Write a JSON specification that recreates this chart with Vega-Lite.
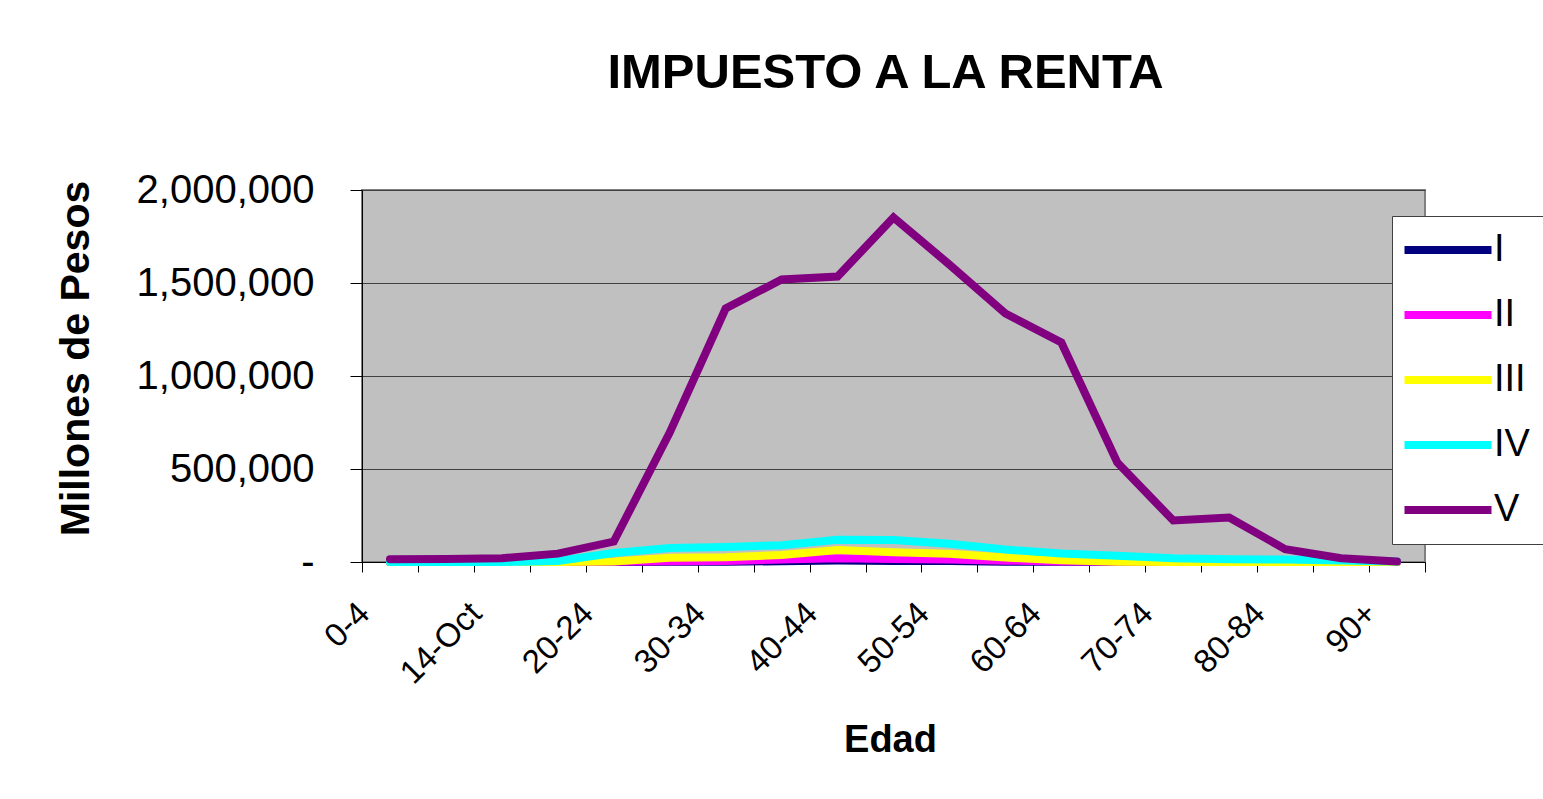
{
  "$schema": "https://vega.github.io/schema/vega-lite/v6.json",
  "width": 1063,
  "height": 372,
  "autosize": {"type": "none"},
  "padding": {"left": 362, "top": 190, "right": 118, "bottom": 237},
  "background": "white",
  "title": {
    "text": "IMPUESTO A LA RENTA",
    "font": "Liberation Sans",
    "fontSize": 49,
    "fontWeight": "bold",
    "color": "black",
    "anchor": "middle",
    "frame": "group",
    "baseline": "alphabetic",
    "offset": 33,
    "dx": -8
  },
  "datasets": {
    "rows": [
      {"edad": "0-4", "serie": "I", "valor": 0},
      {"edad": "9-May", "serie": "I", "valor": 0},
      {"edad": "14-Oct", "serie": "I", "valor": 0},
      {"edad": "15-19", "serie": "I", "valor": 0},
      {"edad": "20-24", "serie": "I", "valor": 0},
      {"edad": "25-29", "serie": "I", "valor": 1000},
      {"edad": "30-34", "serie": "I", "valor": 2000},
      {"edad": "35-39", "serie": "I", "valor": 4000},
      {"edad": "40-44", "serie": "I", "valor": 8000},
      {"edad": "45-49", "serie": "I", "valor": 6000},
      {"edad": "50-54", "serie": "I", "valor": 5000},
      {"edad": "55-59", "serie": "I", "valor": 2000},
      {"edad": "60-64", "serie": "I", "valor": 1000},
      {"edad": "65-69", "serie": "I", "valor": 0},
      {"edad": "70-74", "serie": "I", "valor": 0},
      {"edad": "75-79", "serie": "I", "valor": 0},
      {"edad": "80-84", "serie": "I", "valor": 0},
      {"edad": "85-89", "serie": "I", "valor": 0},
      {"edad": "90+", "serie": "I", "valor": 0},

      {"edad": "0-4", "serie": "II", "valor": 0},
      {"edad": "9-May", "serie": "II", "valor": 0},
      {"edad": "14-Oct", "serie": "II", "valor": 0},
      {"edad": "15-19", "serie": "II", "valor": 0},
      {"edad": "20-24", "serie": "II", "valor": 1000},
      {"edad": "25-29", "serie": "II", "valor": 4000},
      {"edad": "30-34", "serie": "II", "valor": 6000},
      {"edad": "35-39", "serie": "II", "valor": 13000},
      {"edad": "40-44", "serie": "II", "valor": 20000},
      {"edad": "45-49", "serie": "II", "valor": 16000},
      {"edad": "50-54", "serie": "II", "valor": 14000},
      {"edad": "55-59", "serie": "II", "valor": 7000},
      {"edad": "60-64", "serie": "II", "valor": 3000},
      {"edad": "65-69", "serie": "II", "valor": 1000},
      {"edad": "70-74", "serie": "II", "valor": 0},
      {"edad": "75-79", "serie": "II", "valor": 0},
      {"edad": "80-84", "serie": "II", "valor": 0},
      {"edad": "85-89", "serie": "II", "valor": 0},
      {"edad": "90+", "serie": "II", "valor": 0},

      {"edad": "0-4", "serie": "III", "valor": 0},
      {"edad": "9-May", "serie": "III", "valor": 0},
      {"edad": "14-Oct", "serie": "III", "valor": 0},
      {"edad": "15-19", "serie": "III", "valor": 0},
      {"edad": "20-24", "serie": "III", "valor": 3000},
      {"edad": "25-29", "serie": "III", "valor": 23000},
      {"edad": "30-34", "serie": "III", "valor": 25000},
      {"edad": "35-39", "serie": "III", "valor": 38000},
      {"edad": "40-44", "serie": "III", "valor": 65000},
      {"edad": "45-49", "serie": "III", "valor": 52000},
      {"edad": "50-54", "serie": "III", "valor": 44000},
      {"edad": "55-59", "serie": "III", "valor": 24000},
      {"edad": "60-64", "serie": "III", "valor": 9000},
      {"edad": "65-69", "serie": "III", "valor": 2000},
      {"edad": "70-74", "serie": "III", "valor": 0},
      {"edad": "75-79", "serie": "III", "valor": 0},
      {"edad": "80-84", "serie": "III", "valor": 0},
      {"edad": "85-89", "serie": "III", "valor": 0},
      {"edad": "90+", "serie": "III", "valor": 0},

      {"edad": "0-4", "serie": "IV", "valor": 0},
      {"edad": "9-May", "serie": "IV", "valor": 0},
      {"edad": "14-Oct", "serie": "IV", "valor": 0},
      {"edad": "15-19", "serie": "IV", "valor": 5000},
      {"edad": "20-24", "serie": "IV", "valor": 48000},
      {"edad": "25-29", "serie": "IV", "valor": 75000},
      {"edad": "30-34", "serie": "IV", "valor": 81000},
      {"edad": "35-39", "serie": "IV", "valor": 90000},
      {"edad": "40-44", "serie": "IV", "valor": 120000},
      {"edad": "45-49", "serie": "IV", "valor": 118000},
      {"edad": "50-54", "serie": "IV", "valor": 98000},
      {"edad": "55-59", "serie": "IV", "valor": 67000},
      {"edad": "60-64", "serie": "IV", "valor": 46000},
      {"edad": "65-69", "serie": "IV", "valor": 33000},
      {"edad": "70-74", "serie": "IV", "valor": 20000},
      {"edad": "75-79", "serie": "IV", "valor": 15000},
      {"edad": "80-84", "serie": "IV", "valor": 13000},
      {"edad": "85-89", "serie": "IV", "valor": 8000},
      {"edad": "90+", "serie": "IV", "valor": 3000},

      {"edad": "0-4", "serie": "V", "valor": 15000},
      {"edad": "9-May", "serie": "V", "valor": 16000},
      {"edad": "14-Oct", "serie": "V", "valor": 20000},
      {"edad": "15-19", "serie": "V", "valor": 45000},
      {"edad": "20-24", "serie": "V", "valor": 110000},
      {"edad": "25-29", "serie": "V", "valor": 696000},
      {"edad": "30-34", "serie": "V", "valor": 1363000},
      {"edad": "35-39", "serie": "V", "valor": 1519000},
      {"edad": "40-44", "serie": "V", "valor": 1535000},
      {"edad": "45-49", "serie": "V", "valor": 1852000},
      {"edad": "50-54", "serie": "V", "valor": 1599000},
      {"edad": "55-59", "serie": "V", "valor": 1336000},
      {"edad": "60-64", "serie": "V", "valor": 1180000},
      {"edad": "65-69", "serie": "V", "valor": 535000},
      {"edad": "70-74", "serie": "V", "valor": 223000},
      {"edad": "75-79", "serie": "V", "valor": 239000},
      {"edad": "80-84", "serie": "V", "valor": 69000},
      {"edad": "85-89", "serie": "V", "valor": 20000},
      {"edad": "90+", "serie": "V", "valor": 3000}
    ]
  },
  "data": {"name": "rows"},
  "mark": {"type": "line", "strokeWidth": 8, "strokeCap": "round", "strokeJoin": "miter"},
  "encoding": {
    "x": {
      "field": "edad",
      "type": "ordinal",
      "sort": ["0-4","9-May","14-Oct","15-19","20-24","25-29","30-34","35-39","40-44","45-49","50-54","55-59","60-64","65-69","70-74","75-79","80-84","85-89","90+"],
      "bandPosition": 0.5,
      "scale": {"type": "band", "paddingInner": 0, "paddingOuter": 0},
      "axis": {
        "title": "Edad",
        "titleFont": "Liberation Sans",
        "titleFontSize": 38,
        "titleFontWeight": "bold",
        "titleColor": "black",
        "titleX": 528,
        "titleY": 189,
        "titleBaseline": "alphabetic",
        "titleAnchor": "middle",
        "titleAlign": "center",
        "labelExpr": "indexof(['0-4','14-Oct','20-24','30-34','40-44','50-54','60-64','70-74','80-84','90+'], datum.value) >= 0 ? datum.label : ''",
        "labelFont": "Liberation Sans",
        "labelFontSize": 33,
        "labelColor": "black",
        "labelAngle": -45,
        "labelAlign": "right",
        "labelBaseline": "middle",
        "labelOffset": -26,
        "labelPadding": 36,
        "labelOverlap": false,
        "tickBand": "extent",
        "tickSize": 10,
        "tickColor": "black",
        "tickWidth": 1,
        "domainColor": "black",
        "domainWidth": 1,
        "grid": false
      }
    },
    "y": {
      "field": "valor",
      "type": "quantitative",
      "scale": {"domain": [0, 2000000], "nice": false},
      "axis": {
        "values": [0, 500000, 1000000, 1500000, 2000000],
        "labelExpr": "datum.value == 0 ? '-' : format(datum.value, ',')",
        "labelFont": "Liberation Sans",
        "labelFontSize": 40,
        "labelColor": "black",
        "labelPadding": 36,
        "tickSize": 12,
        "tickColor": "black",
        "domainColor": "black",
        "grid": true,
        "gridColor": "#404040",
        "gridWidth": 1,
        "title": "Millones de Pesos",
        "titleFont": "Liberation Sans",
        "titleFontSize": 41,
        "titleFontWeight": "bold",
        "titleColor": "black",
        "titleAngle": -90,
        "titleX": -274,
        "titleY": 168,
        "titleBaseline": "alphabetic",
        "titleAlign": "center"
      }
    },
    "color": {
      "field": "serie",
      "type": "nominal",
      "scale": {
        "domain": ["I", "II", "III", "IV", "V"],
        "range": ["#000080", "#FF00FF", "#FFFF00", "#00FFFF", "#800080"]
      },
      "legend": {
        "orient": "none",
        "legendX": 1030,
        "legendY": 26,
        "title": null,
        "symbolType": "M-3,0H3",
        "symbolSize": 841,
        "symbolStrokeWidth": 8,
        "symbolOffset": 22,
        "labelFont": "Liberation Sans",
        "labelFontSize": 38,
        "labelColor": "black",
        "labelOffset": 27,
        "fillColor": "white",
        "strokeColor": "#404040",
        "padding": 15,
        "rowPadding": 27
      }
    }
  },
  "config": {
    "view": {"fill": "#C0C0C0", "stroke": "#808080", "strokeWidth": 2},
    "legend": {"symbolOpacity": 1}
  }
}
